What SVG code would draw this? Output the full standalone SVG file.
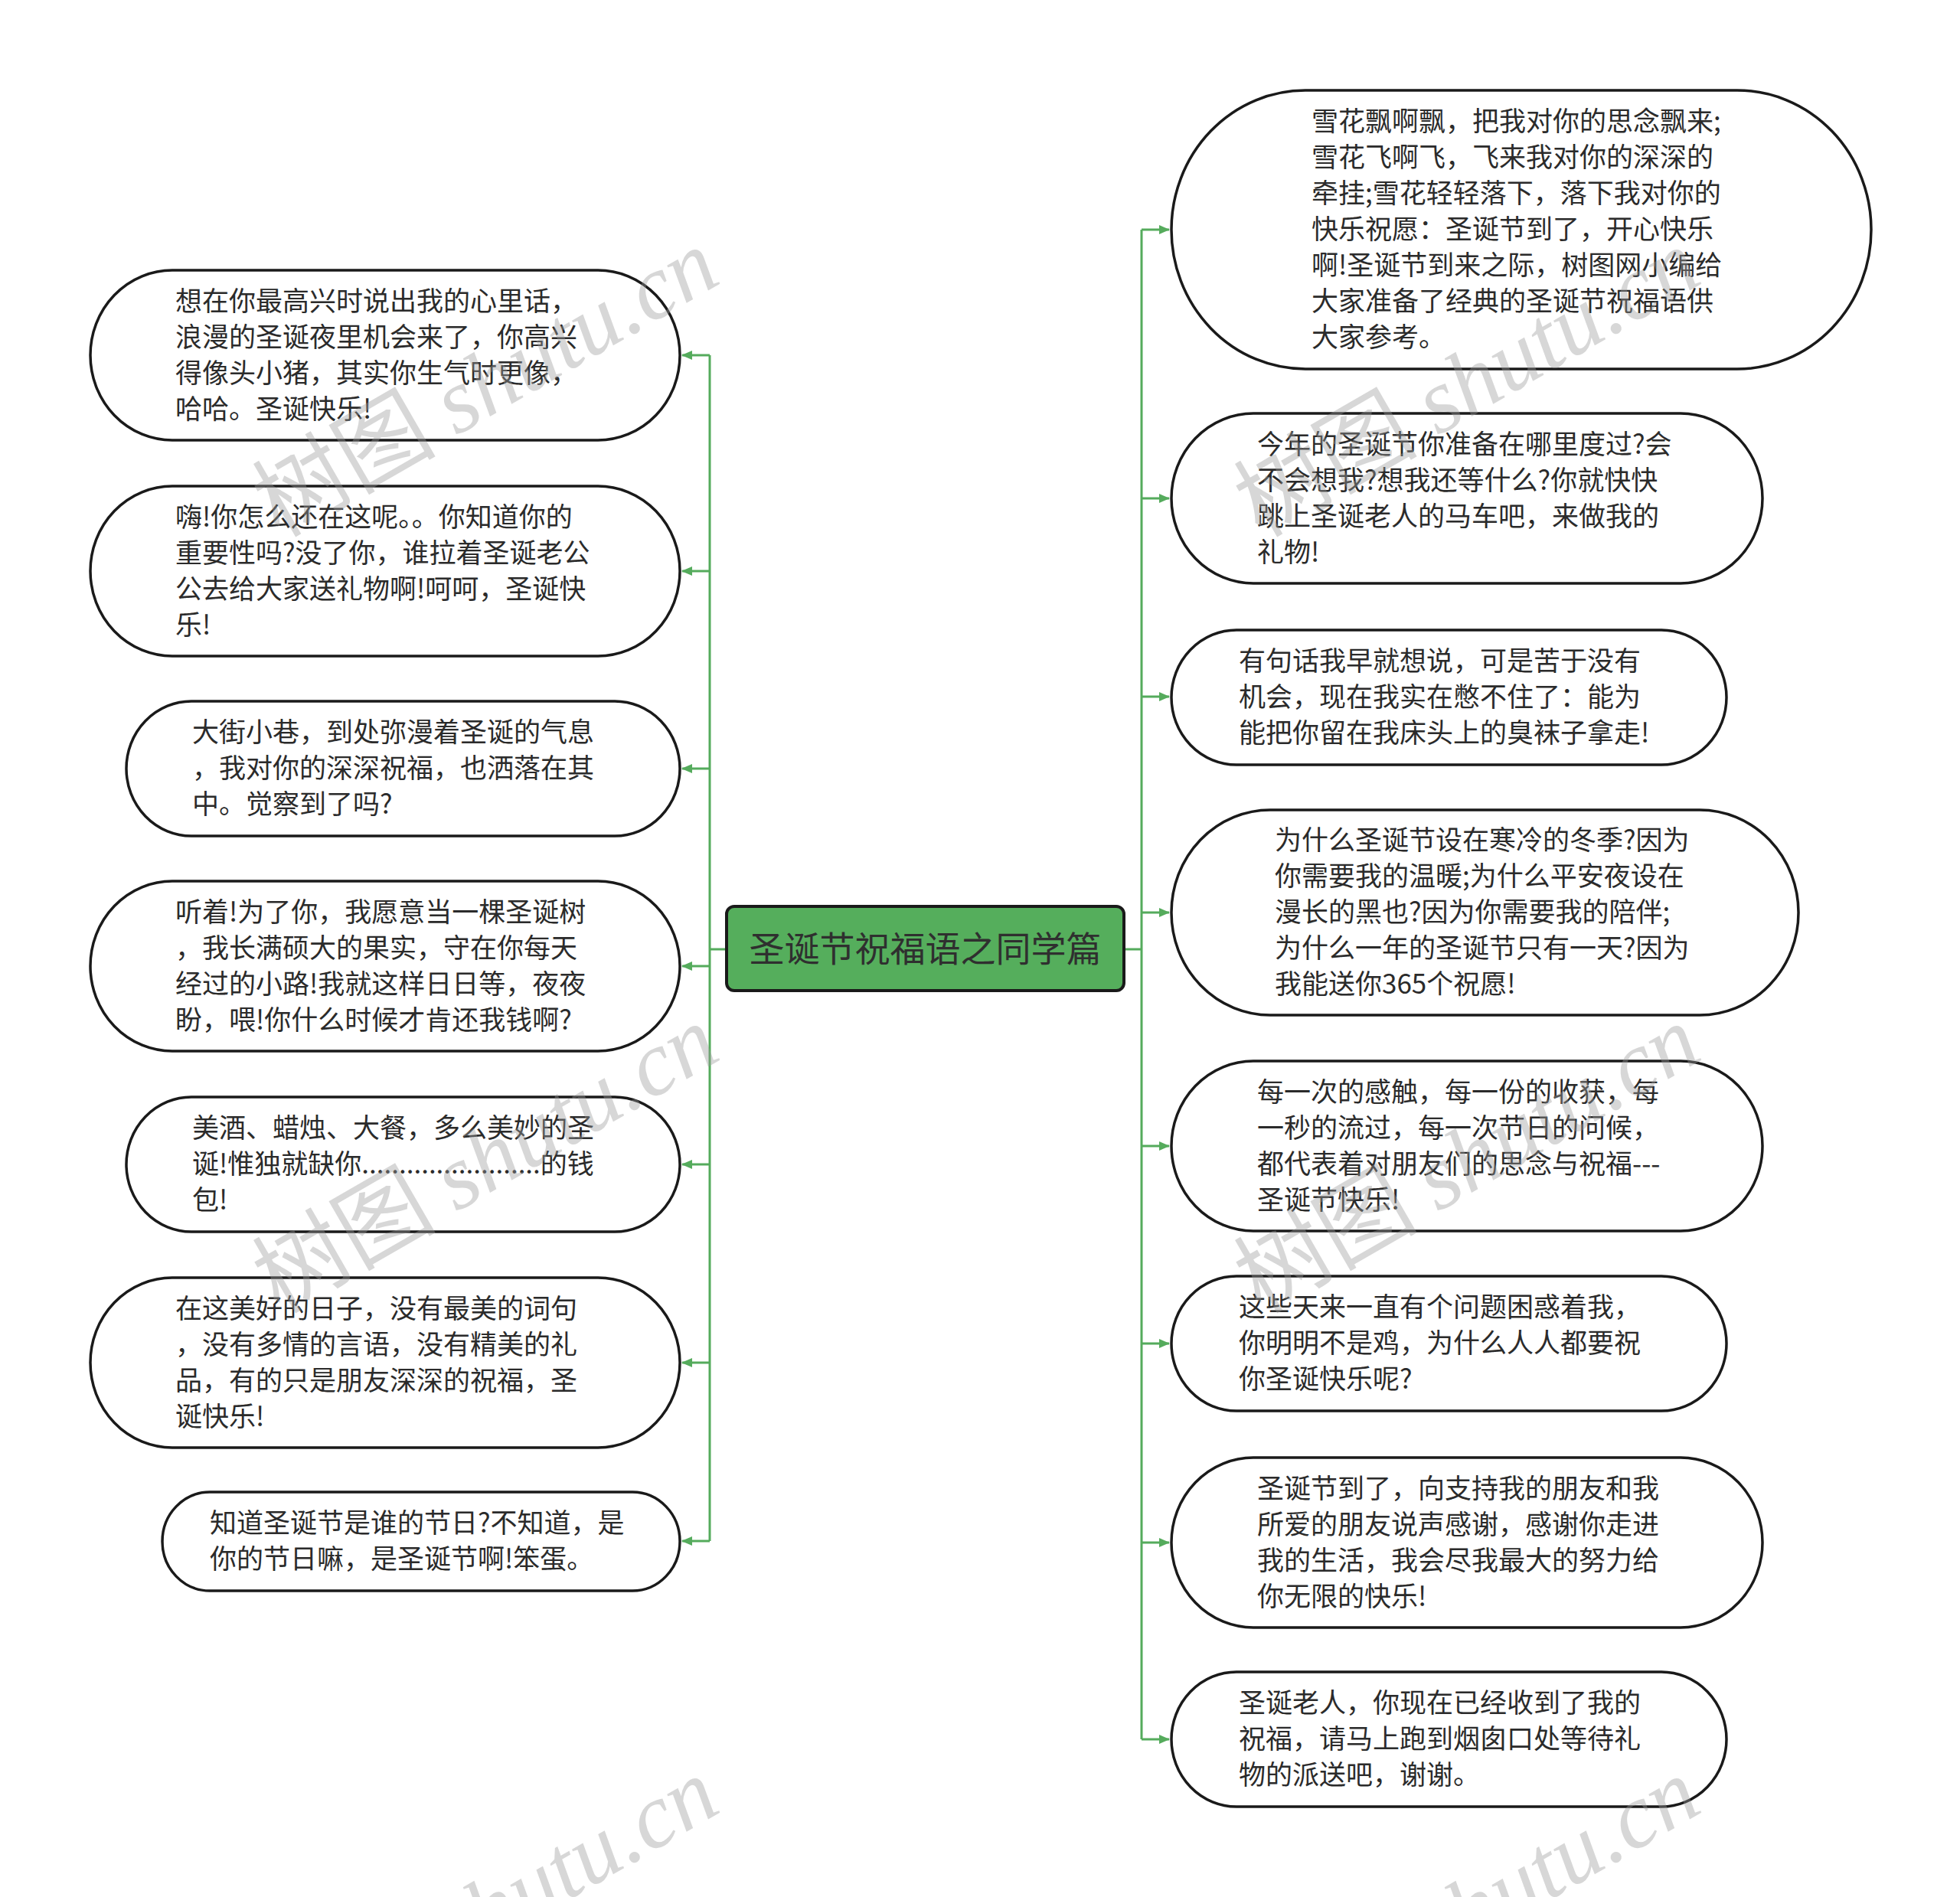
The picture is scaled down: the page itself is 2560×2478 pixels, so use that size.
<svg xmlns="http://www.w3.org/2000/svg" width="2560" height="2478" viewBox="0 0 2560 2478">
<style>
.node{fill:#ffffff;stroke:#1a1a1a;stroke-width:3.5}
.t{font-family:"Noto Sans CJK SC","Microsoft YaHei",sans-serif;font-size:35px;fill:#2b2b2b}
.ct{font-family:"Noto Sans CJK SC","Microsoft YaHei",sans-serif;font-size:46px;fill:#2f2f2f}
.ln{fill:none;stroke:#55ab5c;stroke-width:3}
.wm{font-size:120px;fill:#9a9a9a;fill-opacity:0.4}
.wz{font-family:"Noto Sans CJK SC",sans-serif}
.we{font-family:"Liberation Serif",serif;font-style:italic}
</style>
<defs>
<marker id="ar" markerUnits="userSpaceOnUse" markerWidth="14" markerHeight="12" refX="13" refY="6" orient="auto">
<path d="M0,0 L14,6 L0,12 Z" fill="#55ab5c"/>
</marker>
</defs>
<rect width="2560" height="2478" fill="#ffffff"/>
<g id="connectors">
<path class="ln" d="M949,1240 H927 M927,464 V2013"/>
<path class="ln" d="M1468,1240 H1491 M1491,300 V2272"/>
<path class="ln" marker-end="url(#ar)" d="M927,464 H891"/>
<path class="ln" marker-end="url(#ar)" d="M927,746 H891"/>
<path class="ln" marker-end="url(#ar)" d="M927,1004 H891"/>
<path class="ln" marker-end="url(#ar)" d="M927,1262 H891"/>
<path class="ln" marker-end="url(#ar)" d="M927,1521 H891"/>
<path class="ln" marker-end="url(#ar)" d="M927,1780 H891"/>
<path class="ln" marker-end="url(#ar)" d="M927,2013 H891"/>
<path class="ln" marker-end="url(#ar)" d="M1491,300 H1527"/>
<path class="ln" marker-end="url(#ar)" d="M1491,651 H1527"/>
<path class="ln" marker-end="url(#ar)" d="M1491,910 H1527"/>
<path class="ln" marker-end="url(#ar)" d="M1491,1192 H1527"/>
<path class="ln" marker-end="url(#ar)" d="M1491,1497 H1527"/>
<path class="ln" marker-end="url(#ar)" d="M1491,1755 H1527"/>
<path class="ln" marker-end="url(#ar)" d="M1491,2015 H1527"/>
<path class="ln" marker-end="url(#ar)" d="M1491,2272 H1527"/>
</g>
<g id="center">
<rect x="949" y="1184" width="519" height="110" rx="10" ry="10" fill="#55ae5c" stroke="#1a1a1a" stroke-width="4"/>
<text class="ct" x="1208.5" y="1256" text-anchor="middle">圣诞节祝福语之同学篇</text>
</g>
<g id="L1">
<rect class="node" x="118" y="353" width="770" height="222" rx="107" ry="111"/>
<text class="t" x="229" y="405.5"><tspan x="229">想在你最高兴时说出我的心里话，</tspan><tspan x="229" dy="47">浪漫的圣诞夜里机会来了，你高兴</tspan><tspan x="229" dy="47">得像头小猪，其实你生气时更像，</tspan><tspan x="229" dy="47">哈哈。圣诞快乐!</tspan></text>
</g>
<g id="L2">
<rect class="node" x="118" y="635" width="770" height="222" rx="107" ry="111"/>
<text class="t" x="229" y="687.5"><tspan x="229">嗨!你怎么还在这呢。。你知道你的</tspan><tspan x="229" dy="47">重要性吗?没了你，谁拉着圣诞老公</tspan><tspan x="229" dy="47">公去给大家送礼物啊!呵呵，圣诞快</tspan><tspan x="229" dy="47">乐!</tspan></text>
</g>
<g id="L3">
<rect class="node" x="165" y="916" width="723" height="176" rx="85" ry="88"/>
<text class="t" x="251" y="969"><tspan x="251">大街小巷，到处弥漫着圣诞的气息</tspan><tspan x="251" dy="47">，我对你的深深祝福，也洒落在其</tspan><tspan x="251" dy="47">中。觉察到了吗?</tspan></text>
</g>
<g id="L4">
<rect class="node" x="118" y="1151" width="770" height="222" rx="107" ry="111"/>
<text class="t" x="229" y="1203.5"><tspan x="229">听着!为了你，我愿意当一棵圣诞树</tspan><tspan x="229" dy="47">，我长满硕大的果实，守在你每天</tspan><tspan x="229" dy="47">经过的小路!我就这样日日等，夜夜</tspan><tspan x="229" dy="47">盼，喂!你什么时候才肯还我钱啊?</tspan></text>
</g>
<g id="L5">
<rect class="node" x="165" y="1433" width="723" height="176" rx="85" ry="88"/>
<text class="t" x="251" y="1486"><tspan x="251">美酒、蜡烛、大餐，多么美妙的圣</tspan><tspan x="251" dy="47">诞!惟独就缺你........................的钱</tspan><tspan x="251" dy="47">包!</tspan></text>
</g>
<g id="L6">
<rect class="node" x="118" y="1669" width="770" height="222" rx="107" ry="111"/>
<text class="t" x="229" y="1721.5"><tspan x="229">在这美好的日子，没有最美的词句</tspan><tspan x="229" dy="47">，没有多情的言语，没有精美的礼</tspan><tspan x="229" dy="47">品，有的只是朋友深深的祝福，圣</tspan><tspan x="229" dy="47">诞快乐!</tspan></text>
</g>
<g id="L7">
<rect class="node" x="212" y="1949" width="676" height="129" rx="62" ry="64.5"/>
<text class="t" x="274" y="2001.5"><tspan x="274">知道圣诞节是谁的节日?不知道，是</tspan><tspan x="274" dy="47">你的节日嘛，是圣诞节啊!笨蛋。</tspan></text>
</g>
<g id="R1">
<rect class="node" x="1530" y="118" width="914" height="364" rx="175" ry="182"/>
<text class="t" x="1713" y="171"><tspan x="1713">雪花飘啊飘，把我对你的思念飘来;</tspan><tspan x="1713" dy="47">雪花飞啊飞，飞来我对你的深深的</tspan><tspan x="1713" dy="47">牵挂;雪花轻轻落下，落下我对你的</tspan><tspan x="1713" dy="47">快乐祝愿：圣诞节到了，开心快乐</tspan><tspan x="1713" dy="47">啊!圣诞节到来之际，树图网小编给</tspan><tspan x="1713" dy="47">大家准备了经典的圣诞节祝福语供</tspan><tspan x="1713" dy="47">大家参考。</tspan></text>
</g>
<g id="R2">
<rect class="node" x="1530" y="540" width="772" height="222" rx="107" ry="111"/>
<text class="t" x="1642" y="592.5"><tspan x="1642">今年的圣诞节你准备在哪里度过?会</tspan><tspan x="1642" dy="47">不会想我?想我还等什么?你就快快</tspan><tspan x="1642" dy="47">跳上圣诞老人的马车吧，来做我的</tspan><tspan x="1642" dy="47">礼物!</tspan></text>
</g>
<g id="R3">
<rect class="node" x="1530" y="823" width="725" height="176" rx="85" ry="88"/>
<text class="t" x="1618" y="876"><tspan x="1618">有句话我早就想说，可是苦于没有</tspan><tspan x="1618" dy="47">机会，现在我实在憋不住了：能为</tspan><tspan x="1618" dy="47">能把你留在我床头上的臭袜子拿走!</tspan></text>
</g>
<g id="R4">
<rect class="node" x="1530" y="1058" width="819" height="268" rx="129" ry="134"/>
<text class="t" x="1665" y="1110"><tspan x="1665">为什么圣诞节设在寒冷的冬季?因为</tspan><tspan x="1665" dy="47">你需要我的温暖;为什么平安夜设在</tspan><tspan x="1665" dy="47">漫长的黑也?因为你需要我的陪伴;</tspan><tspan x="1665" dy="47">为什么一年的圣诞节只有一天?因为</tspan><tspan x="1665" dy="47">我能送你365个祝愿!</tspan></text>
</g>
<g id="R5">
<rect class="node" x="1530" y="1386" width="772" height="222" rx="107" ry="111"/>
<text class="t" x="1642" y="1438.5"><tspan x="1642">每一次的感触，每一份的收获，每</tspan><tspan x="1642" dy="47">一秒的流过，每一次节日的问候，</tspan><tspan x="1642" dy="47">都代表着对朋友们的思念与祝福---</tspan><tspan x="1642" dy="47">圣诞节快乐!</tspan></text>
</g>
<g id="R6">
<rect class="node" x="1530" y="1667" width="725" height="176" rx="85" ry="88"/>
<text class="t" x="1618" y="1720"><tspan x="1618">这些天来一直有个问题困惑着我，</tspan><tspan x="1618" dy="47">你明明不是鸡，为什么人人都要祝</tspan><tspan x="1618" dy="47">你圣诞快乐呢?</tspan></text>
</g>
<g id="R7">
<rect class="node" x="1530" y="1904" width="772" height="222" rx="107" ry="111"/>
<text class="t" x="1642" y="1956.5"><tspan x="1642">圣诞节到了，向支持我的朋友和我</tspan><tspan x="1642" dy="47">所爱的朋友说声感谢，感谢你走进</tspan><tspan x="1642" dy="47">我的生活，我会尽我最大的努力给</tspan><tspan x="1642" dy="47">你无限的快乐!</tspan></text>
</g>
<g id="R8">
<rect class="node" x="1530" y="2184" width="725" height="176" rx="85" ry="88"/>
<text class="t" x="1618" y="2237"><tspan x="1618">圣诞老人，你现在已经收到了我的</tspan><tspan x="1618" dy="47">祝福，请马上跑到烟囱口处等待礼</tspan><tspan x="1618" dy="47">物的派送吧，谢谢。</tspan></text>
</g>
<g id="watermarks">
<text class="wm" x="945" y="368" text-anchor="end" transform="rotate(-30 945 368)"><tspan class="wz">树图 </tspan><tspan class="we">shutu.cn</tspan></text>
<text class="wm" x="945" y="1382" text-anchor="end" transform="rotate(-30 945 1382)"><tspan class="wz">树图 </tspan><tspan class="we">shutu.cn</tspan></text>
<text class="wm" x="945" y="2365" text-anchor="end" transform="rotate(-30 945 2365)"><tspan class="wz">树图 </tspan><tspan class="we">shutu.cn</tspan></text>
<text class="wm" x="2227" y="368" text-anchor="end" transform="rotate(-30 2227 368)"><tspan class="wz">树图 </tspan><tspan class="we">shutu.cn</tspan></text>
<text class="wm" x="2227" y="1382" text-anchor="end" transform="rotate(-30 2227 1382)"><tspan class="wz">树图 </tspan><tspan class="we">shutu.cn</tspan></text>
<text class="wm" x="2227" y="2365" text-anchor="end" transform="rotate(-30 2227 2365)"><tspan class="wz">树图 </tspan><tspan class="we">shutu.cn</tspan></text>
</g>
</svg>
